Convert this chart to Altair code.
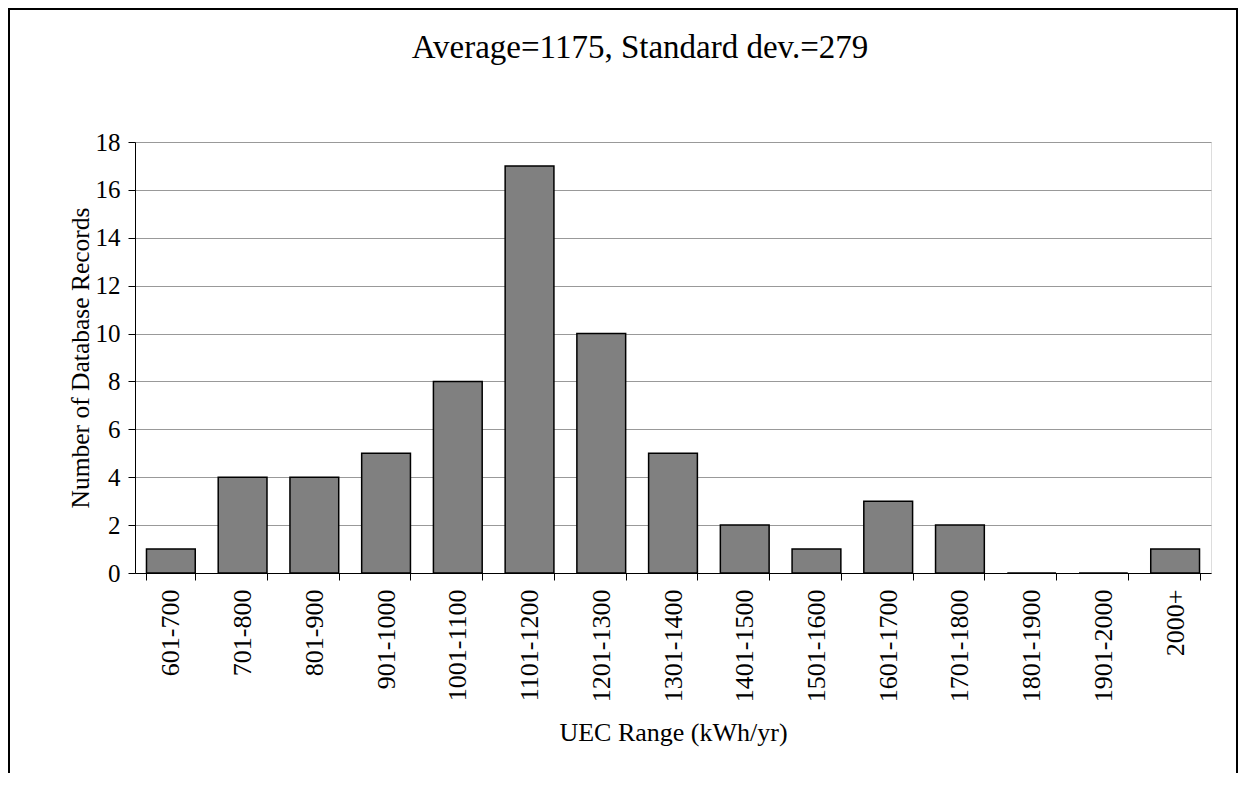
import altair as alt
import pandas as pd

categories = ["601-700", "701-800", "801-900", "901-1000", "1001-1100", "1101-1200",
              "1201-1300", "1301-1400", "1401-1500", "1501-1600", "1601-1700",
              "1701-1800", "1801-1900", "1901-2000", "2000+"]
counts = [1, 4, 4, 5, 8, 17, 10, 5, 2, 1, 3, 2, 0, 0, 1]
title_text = "Average=1175, Standard dev.=279"
y_ticks = [0, 2, 4, 6, 8, 10, 12, 14, 16, 18]

df = pd.DataFrame({"range": categories, "count": counts})
FONT = "Liberation Serif"

bars = alt.Chart(df).mark_bar(
    fill="#808080", stroke="black", strokeWidth=1.5
).encode(
    x=alt.X("range:N", sort=categories,
            scale=alt.Scale(paddingInner=0.32, paddingOuter=0.16),
            axis=alt.Axis(title="UEC Range (kWh/yr)", labelAngle=-90,
                          tickBand="extent", tickSize=7, tickColor="black",
                          domainColor="black", labelFontSize=26, labelFont=FONT,
                          labelColor="black", labelPadding=9,
                          titleFont=FONT, titleFontSize=26, titleFontWeight="normal",
                          titleColor="black", titlePadding=18, grid=False)),
    y=alt.Y("count:Q", scale=alt.Scale(domain=[0, 18], nice=False),
            axis=alt.Axis(title="Number of Database Records", values=y_ticks,
                          tickSize=7, tickColor="black", domainColor="black",
                          gridColor="#999999", gridWidth=1,
                          labelFontSize=25, labelFont=FONT, labelColor="black",
                          labelPadding=8,
                          titleFont=FONT, titleFontSize=25.5, titleFontWeight="normal",
                          titleColor="black", titlePadding=2))
)

title_df = pd.DataFrame({"t": [title_text]})
title = alt.Chart(title_df).mark_text(
    font=FONT, fontSize=33, color="black", align="center", baseline="middle"
).encode(text="t:N", x=alt.value(505), y=alt.value(-94))

frame_df = pd.DataFrame({"f": [0]})
frame = alt.Chart(frame_df).mark_rect(
    fill="white", fillOpacity=0, stroke="black", strokeWidth=2
).encode(x=alt.value(-126), x2=alt.value(1102), y=alt.value(-133), y2=alt.value(700))

chart = alt.layer(frame, bars, title).properties(
    width=1076, height=431,
    autosize=alt.AutoSizeParams(type="none"),
    padding={"left": 127, "top": 134, "right": 28, "bottom": 200},
).configure_view(stroke=None).configure(background="white", font=FONT)

chart.save("out.html", embed_options={"renderer": "svg", "actions": False})
